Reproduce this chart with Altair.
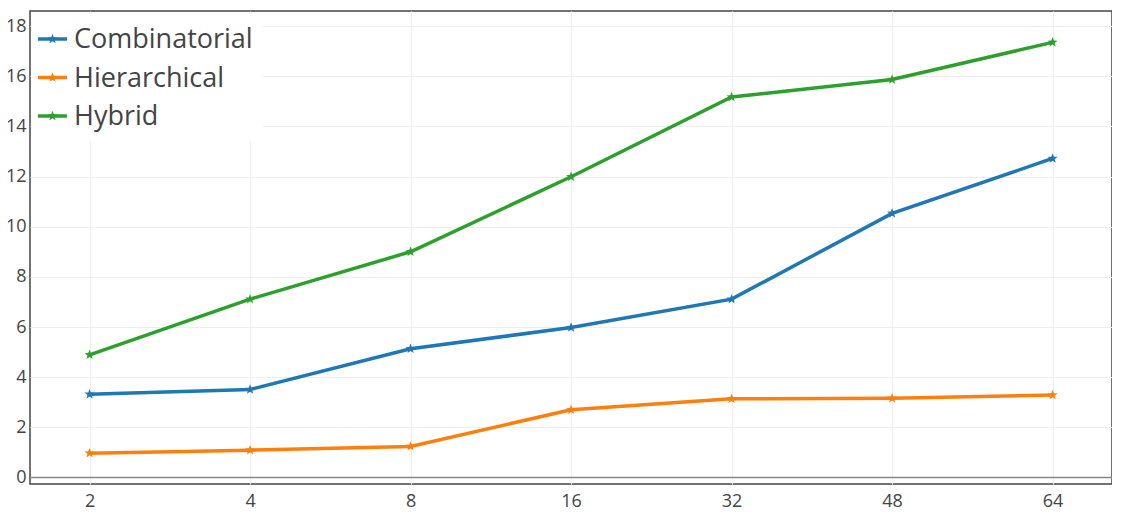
import json
import math
import altair as alt

# ---- data ----
x_labels = ["2", "4", "8", "16", "32", "48", "64"]
series_names = ["Combinatorial", "Hierarchical", "Hybrid"]
combinatorial = [3.32, 3.51, 5.13, 5.98, 7.11, 10.53, 12.72]
hierarchical = [0.97, 1.09, 1.24, 2.70, 3.14, 3.16, 3.29]
hybrid = [4.89, 7.11, 9.00, 11.99, 15.17, 15.87, 17.35]
y_ticks = [0, 2, 4, 6, 8, 10, 12, 14, 16, 18]
colors = ["#1f77b4", "#ff7f0e", "#2ca02c"]

FONT = "Open Sans"


def star_path(R=1.0, r=0.42, n=5):
    pts = []
    for i in range(2 * n):
        a = -math.pi / 2 + i * math.pi / n
        rad = R if i % 2 == 0 else r
        pts.append(f"{rad * math.cos(a) + 0.0:.3f},{rad * math.sin(a) + 0.0:.3f}")
    return "M" + "L".join(pts) + "Z"


STAR = star_path()

x_enc = alt.X(
    "idx:Q",
    scale=alt.Scale(domain=[-0.371, 6.37], nice=False, zero=False),
    axis=alt.Axis(
        title=None, values=list(range(len(x_labels))),
        labelExpr=json.dumps(x_labels) + "[datum.value]",
        labelAngle=0, labelFontSize=18, labelColor="#444",
        labelFont=FONT, ticks=False, domain=False, grid=True,
        gridColor="#eee", gridWidth=1, labelPadding=8,
    ),
)
y_enc = alt.Y(
    "value:Q",
    scale=alt.Scale(domain=[-0.26, 18.6], nice=False, zero=False),
    axis=alt.Axis(
        title=None, values=y_ticks, ticks=False, domain=False, grid=True,
        gridColor="#eee", gridWidth=1,
        labelFontSize=18, labelColor="#444", labelFont=FONT, labelPadding=4,
    ),
)

layers = []

# zero line
layers.append(
    alt.Chart(alt.Data(values=[{"z": 0}])).mark_rule(color="#888", strokeWidth=1.5)
    .encode(y=alt.Y("z:Q", title=None))
)

# ---- hand-built legend (top-left, white box) ----
layers.append(
    alt.Chart(alt.Data(values=[{"k": 0}])).mark_rect(color="white").encode(
        x=alt.value(1), x2=alt.value(233), y=alt.value(1), y2=alt.value(130)
    )
)
for i, (name, col) in enumerate(zip(series_names, colors)):
    cy = 28 + 38.5 * i
    ld = alt.Data(values=[{"series": name}])
    layers.append(
        alt.Chart(ld).mark_rule(color=col, strokeWidth=3.5).encode(
            x=alt.value(8), x2=alt.value(37), y=alt.value(cy)
        )
    )
    layers.append(
        alt.Chart(ld).mark_point(shape=STAR, filled=True, size=110, opacity=1, color=col)
        .encode(x=alt.value(22.5), y=alt.value(cy))
    )
    layers.append(
        alt.Chart(ld).mark_text(
            align="left", baseline="middle", fontSize=27, font=FONT, color="#444"
        ).encode(x=alt.value(44), y=alt.value(cy + 1), text="series:N")
    )

# ---- data series: one line + star points per series ----
for name, col, vals in zip(series_names, colors, [combinatorial, hierarchical, hybrid]):
    sd = alt.Data(values=[{"idx": i, "value": v, "series": name} for i, v in enumerate(vals)])
    layers.append(
        alt.Chart(sd).mark_line(color=col, strokeWidth=3.5).encode(x=x_enc, y=y_enc)
    )
    layers.append(
        alt.Chart(sd).mark_point(shape=STAR, filled=True, size=110, opacity=1, color=col)
        .encode(x=x_enc, y=y_enc)
    )

chart = (
    alt.layer(*layers)
    .properties(
        width=1082,
        height=473,
        autosize=alt.AutoSizeParams(type="none"),
        padding={"left": 22, "top": 3, "right": 0, "bottom": 28},
    )
    .configure(font=FONT)
    .configure_view(stroke="#444", strokeWidth=1.5)
)

chart.save("out.html", embed_options={"renderer": "svg", "actions": False})
